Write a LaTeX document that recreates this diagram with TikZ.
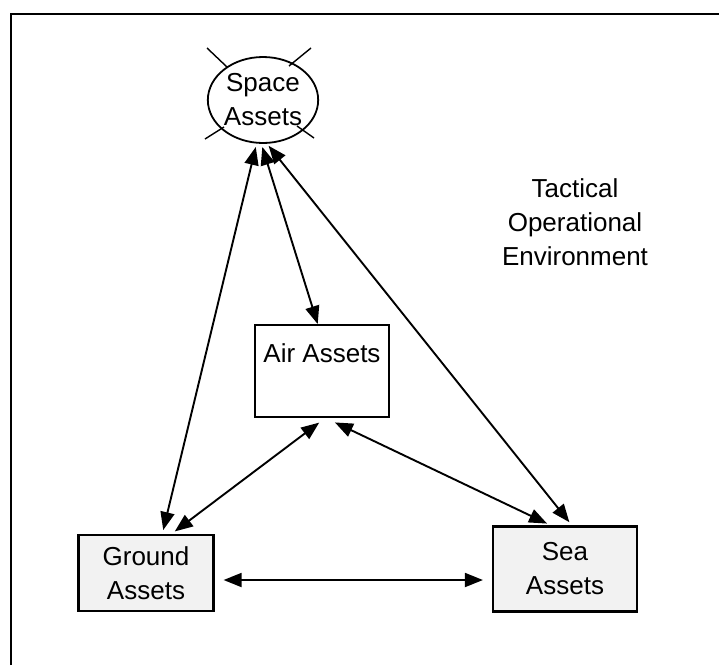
\documentclass[tikz,border=0pt]{standalone}
\usepackage{fontspec}
\setmainfont{Liberation Sans}
\usetikzlibrary{arrows.meta,shapes.geometric}
\begin{document}
\begin{tikzpicture}[x=1pt,y=-1pt,
  lbl/.style={font=\fontsize{26}{34}\selectfont, align=center},
  assetbox/.style={draw, line width=2.2pt, rectangle, inner sep=0pt, lbl},
  seabox/.style={assetbox, fill=gray!10},
  link/.style={line width=1.9pt, {Triangle[length=18pt,width=14pt]}-{Triangle[length=18pt,width=14pt]}, shorten <=1pt, shorten >=1pt},
  ray/.style={line width=1.4pt}]
\useasboundingbox (0,0) rectangle (719,665);
% frame (only top and left edges inside the picture)
\draw[line width=2pt] (11,665) -- (11,14) -- (719,14);
% nodes
\node[draw, ellipse, line width=1.8pt, minimum width=88pt, minimum height=86pt, inner sep=0pt, lbl] (space) at (263,100) {Space\\Assets};
\node[assetbox, minimum width=134pt, minimum height=92pt, text height=37pt, text depth=55pt] (air) at (322,371) {Air Assets};
\node[seabox, minimum width=135pt, minimum height=76pt] (ground) at (146,573) {Ground\\Assets};
\node[seabox, minimum width=144pt, minimum height=85pt] (sea) at (565,569) {Sea\\Assets};
\node[lbl, inner sep=0pt] (toe) at (575,222) {Tactical\\Operational\\Environment};
% rays around space node
\coordinate (r1a) at (207,48); \coordinate (r1b) at (227,67);
\coordinate (r2a) at (289,66); \coordinate (r2b) at (311,48);
\coordinate (r3a) at (297,126); \coordinate (r3b) at (314,138);
\coordinate (r4a) at (205,139); \coordinate (r4b) at (224,127);
\draw[ray] (r1a) -- (r1b);
\draw[ray] (r2a) -- (r2b);
\draw[ray] (r3a) -- (r3b);
\draw[ray] (r4a) -- (r4b);
% connector end points
\coordinate (sg) at (256,146);
\coordinate (sa) at (262,146);
\coordinate (ss) at (268,145);
\coordinate (ag) at (320,422);
\coordinate (as) at (334,422);
\coordinate (gs) at (163,531);
\coordinate (ga) at (174,532);
\coordinate (ssp) at (570,523);
\coordinate (sea2) at (548,524);
\coordinate (airtop) at (318,325);
% connectors
\draw[link] (sg) -- (gs);
\draw[link] (sa) -- (airtop);
\draw[link] (ss) -- (ssp);
\draw[link] (ag) -- (ga);
\draw[link] (as) -- (sea2);
\draw[link] (ground.east |- 0,580) ++(8,0) coordinate (gh) -- ([xshift=-8pt]sea.west |- 0,580) coordinate (sh);
\end{tikzpicture}
\end{document}
